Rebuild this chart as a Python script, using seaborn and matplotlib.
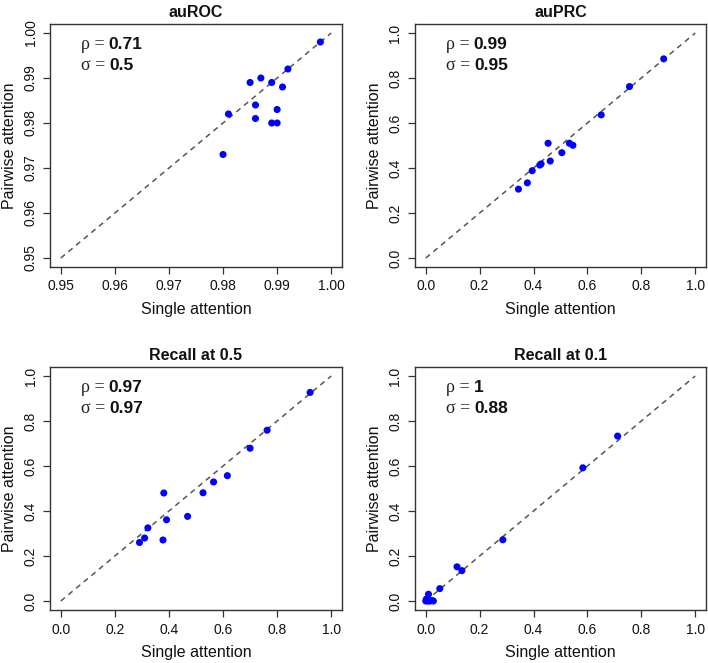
import matplotlib
matplotlib.use("Agg")
import matplotlib.pyplot as plt
import seaborn as sns
import pandas as pd

# ---- data ----
titles = ["auROC", "auPRC", "Recall at 0.5", "Recall at 0.1"]
rho_vals = ["0.71", "0.99", "0.97", "1"]
sigma_vals = ["0.5", "0.95", "0.97", "0.88"]

auroc_single = [0.998, 0.992, 0.985, 0.987, 0.989, 0.991, 0.986, 0.981, 0.990, 0.986, 0.989, 0.990, 0.980]
auroc_pair = [0.998, 0.992, 0.989, 0.990, 0.989, 0.988, 0.984, 0.982, 0.983, 0.981, 0.980, 0.980, 0.973]

auprc_single = [0.344, 0.377, 0.395, 0.423, 0.428, 0.454, 0.462, 0.505, 0.533, 0.546, 0.651, 0.756, 0.883]
auprc_pair = [0.306, 0.334, 0.388, 0.413, 0.418, 0.510, 0.431, 0.468, 0.510, 0.501, 0.636, 0.762, 0.885]

recall05_single = [0.291, 0.310, 0.322, 0.378, 0.381, 0.391, 0.469, 0.526, 0.565, 0.616, 0.700, 0.763, 0.922]
recall05_pair = [0.260, 0.280, 0.325, 0.271, 0.480, 0.361, 0.376, 0.481, 0.529, 0.557, 0.679, 0.759, 0.927]

recall01_single = [0.000, 0.002, 0.008, 0.015, 0.022, 0.028, 0.010, 0.052, 0.116, 0.134, 0.286, 0.583, 0.712]
recall01_pair = [0.000, 0.008, 0.000, 0.000, 0.002, 0.000, 0.030, 0.055, 0.152, 0.135, 0.272, 0.592, 0.733]

ranges = [(0.95, 1.00), (0.0, 1.0), (0.0, 1.0), (0.0, 1.0)]
ticks = [[0.95, 0.96, 0.97, 0.98, 0.99, 1.00],
         [0.0, 0.2, 0.4, 0.6, 0.8, 1.0],
         [0.0, 0.2, 0.4, 0.6, 0.8, 1.0],
         [0.0, 0.2, 0.4, 0.6, 0.8, 1.0]]
tick_fmt = ["{:.2f}", "{:.1f}", "{:.1f}", "{:.1f}"]

singles = [auroc_single, auprc_single, recall05_single, recall01_single]
pairs = [auroc_pair, auprc_pair, recall05_pair, recall01_pair]

# ---- style ----
sns.set_theme(style="ticks")
plt.rcParams['font.family'] = ['Liberation Sans', 'DejaVu Sans']
plt.rcParams['axes.edgecolor'] = '#333333'
plt.rcParams['xtick.color'] = '#333333'
plt.rcParams['ytick.color'] = '#333333'
plt.rcParams['axes.linewidth'] = 1.0

fig = plt.figure(figsize=(7.08, 6.63), dpi=100)

W, H = 708.0, 663.0
col_left = [50, 415]
col_w = [292, 291]
row_top = [24, 367]
ax_h = 243

for i in range(4):
    r, c = divmod(i, 2)
    left = col_left[c] / W
    bottom = 1 - (row_top[r] + ax_h) / H
    ax = fig.add_axes([left, bottom, col_w[c] / W, ax_h / H])

    lo, hi = ranges[i]
    pad = 0.04 * (hi - lo)
    df = pd.DataFrame({"single": singles[i], "pair": pairs[i]})

    ax.plot([lo, hi], [lo, hi], linestyle=(0, (3.5, 3)), color='#555555', lw=1.1, zorder=1)
    sns.scatterplot(data=df, x="single", y="pair", ax=ax, color='#0000FF',
                    s=26, edgecolor='none', linewidth=0, zorder=3)

    ax.set_xlim(lo - pad, hi + pad)
    ax.set_ylim(lo - pad, hi + pad)
    ax.set_xticks(ticks[i])
    ax.set_yticks(ticks[i])
    ax.set_xticklabels([tick_fmt[i].format(t) for t in ticks[i]])
    ax.set_yticklabels([tick_fmt[i].format(t) for t in ticks[i]],
                       rotation=90, va='center')
    ax.tick_params(length=5, width=0.9, labelsize=10, pad=4, labelcolor='#111111')

    ax.set_xlabel("Single attention", fontsize=11.5, labelpad=6, color='#111111')
    ax.set_ylabel("Pairwise attention", fontsize=11.5, labelpad=5, color='#111111')
    ax.set_title(titles[i], fontsize=11.5, fontweight='bold', pad=5, color='#111111')

    for k, (sym, val, yy) in enumerate([("\u03c1 = ", rho_vals[i], 0.914),
                                        ("\u03c3 = ", sigma_vals[i], 0.831)]):
        t1 = ax.text(0.105, yy, sym, transform=ax.transAxes, fontsize=13,
                     ha='left', va='center', color='#222222',
                     family=['Liberation Serif', 'DejaVu Serif'])
        ax.annotate(val, xy=(1, 0.5), xycoords=t1, ha='left', va='center',
                    fontsize=12.5, fontweight='bold', color='#111111')

    for sp in ax.spines.values():
        sp.set_visible(True)

fig.savefig("out.png", dpi=100)
